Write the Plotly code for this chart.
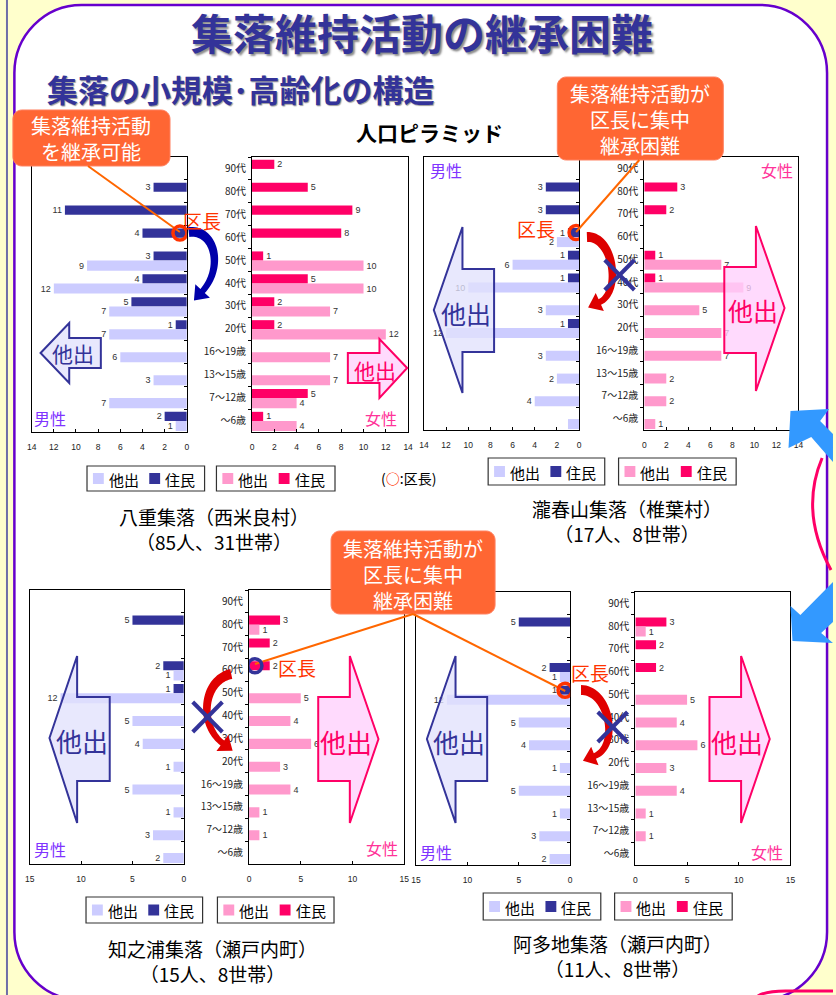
import math
import plotly.graph_objects as go

W, H = 836, 995
JP = "Noto Sans CJK JP"
NUM = "Liberation Sans, Arial, sans-serif"

# ---------------- data ----------------
CATEGORIES = ["90代", "80代", "70代", "60代", "50代", "40代", "30代", "20代",
              "16～19歳", "13～15歳", "7～12歳", "～6歳"]
LEGEND_LABELS = ["他出", "住民"]

YAE_MALE_RESIDENT = [0, 3, 11, 4, 3, 4, 5, 1, 0, 0, 0, 2]
YAE_MALE_MOVEDOUT = [0, 0, 0, 0, 9, 12, 7, 7, 6, 3, 7, 1]
YAE_FEMALE_RESIDENT = [2, 5, 9, 8, 1, 5, 2, 2, 0, 0, 5, 1]
YAE_FEMALE_MOVEDOUT = [0, 0, 0, 0, 10, 10, 7, 12, 7, 7, 4, 4]

TAKI_MALE_RESIDENT = [0, 3, 3, 1, 1, 1, 0, 1, 0, 0, 0, 0]
TAKI_MALE_MOVEDOUT = [0, 0, 0, 2, 6, 10, 3, 12, 3, 2, 4, 1]
TAKI_FEMALE_RESIDENT = [0, 3, 2, 0, 1, 1, 0, 0, 0, 0, 0, 0]
TAKI_FEMALE_MOVEDOUT = [0, 0, 0, 0, 7, 9, 5, 7, 7, 2, 2, 1]

CHINO_MALE_RESIDENT = [0, 5, 0, 2, 1, 0, 0, 0, 0, 0, 0, 0]
CHINO_MALE_MOVEDOUT = [0, 0, 0, 1, 12, 5, 4, 1, 5, 1, 3, 2]
CHINO_FEMALE_RESIDENT = [0, 3, 2, 2, 0, 0, 0, 0, 0, 0, 0, 0]
CHINO_FEMALE_MOVEDOUT = [0, 1, 0, 0, 5, 4, 6, 3, 4, 1, 1, 0]

ATA_MALE_RESIDENT = [0, 5, 0, 2, 1, 0, 0, 0, 0, 0, 0, 0]
ATA_MALE_MOVEDOUT = [0, 0, 0, 1, 12, 5, 4, 1, 5, 1, 3, 2]
ATA_FEMALE_RESIDENT = [0, 3, 2, 2, 0, 0, 0, 0, 0, 0, 0, 0]
ATA_FEMALE_MOVEDOUT = [0, 1, 0, 0, 5, 4, 6, 3, 4, 1, 1, 0]

CAPTION_NAMES = ["八重集落（西米良村）", "瀧春山集落（椎葉村）", "知之浦集落（瀬戸内町）", "阿多地集落（瀬戸内町）"]
CAPTION_POP = ["（85人、31世帯）", "（17人、8世帯）", "（15人、8世帯）", "（11人、8世帯）"]
AXIS_MAX = [14, 14, 15, 15]
AXIS_DTICK = [2, 2, 5, 5]

# ---------------- style / layout ----------------
C_M_OUT, C_M_RES = "#CCCCFF", "#333399"
C_F_OUT, C_F_RES = "#FF99CC", "#FF0066"
NAVY = "#333399"
ORANGE_BOX = "#FF6633"
KUCHO_RED = "#FF3300"

PYRAMIDS = [
    dict(m_res=YAE_MALE_RESIDENT, m_out=YAE_MALE_MOVEDOUT, f_res=YAE_FEMALE_RESIDENT, f_out=YAE_FEMALE_MOVEDOUT,
         male=(27, 184, 157, 432), female=(250, 408, 157, 432), hide=set()),
    dict(m_res=TAKI_MALE_RESIDENT, m_out=TAKI_MALE_MOVEDOUT, f_res=TAKI_FEMALE_RESIDENT, f_out=TAKI_FEMALE_MOVEDOUT,
         male=(424, 581, 157, 430), female=(647, 803, 157, 430), hide={("m_out", 11)}),
    dict(m_res=CHINO_MALE_RESIDENT, m_out=CHINO_MALE_MOVEDOUT, f_res=CHINO_FEMALE_RESIDENT, f_out=CHINO_FEMALE_MOVEDOUT,
         male=(25, 181, 590, 864), female=(247, 404, 590, 864), hide=set()),
    dict(m_res=ATA_MALE_RESIDENT, m_out=ATA_MALE_MOVEDOUT, f_res=ATA_FEMALE_RESIDENT, f_out=ATA_FEMALE_MOVEDOUT,
         male=(416, 572, 592, 865), female=(638, 795, 592, 865), hide=set()),
]

RES_OFFSET, RES_WIDTH = -0.38, 0.40
OUT_OFFSET, OUT_WIDTH = 0.02, 0.44


def X(x):
    return x / W


def Y(y):
    return 1 - y / H


def poly_path(points, close=True):
    s = "M " + " L ".join(f"{X(x):.5f},{Y(y):.5f}" for x, y in points)
    return s + (" Z" if close else "")


def rrect_path(x0, y0, x1, y1, r):
    k = 0.5523 * r
    P = lambda x, y: f"{X(x):.5f},{Y(y):.5f}"
    return (f"M {P(x0 + r, y0)} L {P(x1 - r, y0)} C {P(x1 - r + k, y0)} {P(x1, y0 + r - k)} {P(x1, y0 + r)} "
            f"L {P(x1, y1 - r)} C {P(x1, y1 - r + k)} {P(x1 - r + k, y1)} {P(x1 - r, y1)} "
            f"L {P(x0 + r, y1)} C {P(x0 + r - k, y1)} {P(x0, y1 - r + k)} {P(x0, y1 - r)} "
            f"L {P(x0, y0 + r)} C {P(x0, y0 + r - k)} {P(x0 + r - k, y0)} {P(x0 + r, y0)} Z")


def curved_arrow(p0, p1, p2, p3, w0, w1, head_len, head_w, n=40):
    def B(t):
        u = 1 - t
        return (u**3 * p0[0] + 3 * u * u * t * p1[0] + 3 * u * t * t * p2[0] + t**3 * p3[0],
                u**3 * p0[1] + 3 * u * u * t * p1[1] + 3 * u * t * t * p2[1] + t**3 * p3[1])

    def D(t):
        u = 1 - t
        dx = 3 * u * u * (p1[0] - p0[0]) + 6 * u * t * (p2[0] - p1[0]) + 3 * t * t * (p3[0] - p2[0])
        dy = 3 * u * u * (p1[1] - p0[1]) + 6 * u * t * (p2[1] - p1[1]) + 3 * t * t * (p3[1] - p2[1])
        L = math.hypot(dx, dy) or 1
        return dx / L, dy / L

    left, right = [], []
    for i in range(n + 1):
        t = i / n
        (x, y), (dx, dy) = B(t), D(t)
        nx, ny = -dy, dx
        w = (w0 + (w1 - w0) * t) / 2
        left.append((x + nx * w, y + ny * w))
        right.append((x - nx * w, y - ny * w))
    (ex, ey), (dx, dy) = B(1), D(1)
    nx, ny = -dy, dx
    head = [(ex + nx * head_w / 2, ey + ny * head_w / 2),
            (ex + dx * head_len, ey + dy * head_len),
            (ex - nx * head_w / 2, ey - ny * head_w / 2)]
    return poly_path(left + head + right[::-1])


def txt(x, y, s, size, color="#000000", weight="normal", xanchor="center", family=JP, shadow=None):
    font = dict(family=family, size=size, color=color, weight=weight)
    if shadow:
        font["shadow"] = shadow
    return dict(x=X(x), y=Y(y), xref="paper", yref="paper", text=s, showarrow=False,
                xanchor=xanchor, yanchor="middle", font=font)


fig = go.Figure()
layout = dict(width=W, height=H, margin=dict(l=0, r=0, t=0, b=0), autosize=False,
              paper_bgcolor="#FFFFCC", plot_bgcolor="#FFFFFF", showlegend=False,
              barmode="overlay", hovermode=False)
shapes, annotations = [], []

for k, pyr in enumerate(PYRAMIDS):
    xmax, dtick = AXIS_MAX[k], AXIS_DTICK[k]
    for s, side in enumerate(("male", "female")):
        idx = 2 * k + s + 1
        xs = "" if idx == 1 else str(idx)
        x0, x1, y0, y1 = pyr[side]
        male = side == "male"
        layout["xaxis" + xs] = dict(
            domain=[X(x0), X(x1)], range=[xmax, 0] if male else [0, xmax], anchor="y" + xs,
            tickmode="linear", tick0=0, dtick=dtick, ticks="inside", ticklen=3, tickcolor="#000",
            showline=True, linecolor="#000", linewidth=1, mirror=True, showgrid=False, zeroline=False,
            tickfont=dict(family=NUM, size=8.5, color="#222"), ticklabelstandoff=7, fixedrange=True)
        layout["yaxis" + xs] = dict(
            domain=[Y(y1), Y(y0)], type="category", categoryorder="array", categoryarray=CATEGORIES,
            range=[len(CATEGORIES) - 0.5, -0.5], anchor="x" + xs, side="right" if male else "left",
            showticklabels=not male, tickson="boundaries", ticks="inside" if male else "outside",
            ticklen=3, tickcolor="#000", showline=True, linecolor="#000", linewidth=1, mirror=True,
            showgrid=False, zeroline=False, tickfont=dict(family=JP, size=10, color="#222"),
            ticklabelstandoff=3, fixedrange=True)
        pre = "m_" if male else "f_"
        for key, color, off, wid in ((pre + "res", C_M_RES if male else C_F_RES, RES_OFFSET, RES_WIDTH),
                                     (pre + "out", C_M_OUT if male else C_F_OUT, OUT_OFFSET, OUT_WIDTH)):
            vals = pyr[key]
            labels = ["" if (v == 0 or (key, i) in pyr["hide"]) else str(v) for i, v in enumerate(vals)]
            fig.add_trace(go.Bar(
                y=CATEGORIES, x=vals, orientation="h", xaxis="x" + xs, yaxis="y" + xs,
                marker=dict(color=color, line=dict(width=0)), width=wid, offset=off,
                text=labels, textposition="outside", constraintext="none", cliponaxis=False,
                textfont=dict(family=NUM, size=9, color="#333333"),
                name=LEGEND_LABELS[1] if key.endswith("res") else LEGEND_LABELS[0]))

# ---------------- background ----------------
shapes.append(dict(type="path", xref="paper", yref="paper", layer="below",
                   path=rrect_path(9.5, 5, 832, 1000, 68), fillcolor="#FFFFFF",
                   line=dict(color="#6600CC", width=2.5)))
shapes.append(dict(type="line", xref="paper", yref="paper", x0=X(2), x1=X(2), y0=0, y1=1,
                   line=dict(color="#6F6FA8", width=2)))

# right-edge decorations
shapes.append(dict(type="path", xref="paper", yref="paper",
                   path=poly_path([(795, 411), (834, 409), (825, 421), (838, 434), (838, 462), (816, 437), (793, 448)]),
                   fillcolor="#3399FF", line=dict(width=0)))
shapes.append(dict(type="path", xref="paper", yref="paper",
                   path=poly_path([(797, 641), (795, 606), (805, 615), (838, 582), (838, 622), (826, 633), (838, 643)]),
                   fillcolor="#3399FF", line=dict(width=0)))
shapes.append(dict(type="path", xref="paper", yref="paper",
                   path=f"M {X(827)},{Y(458)} Q {X(804)},{Y(512)} {X(836)},{Y(570)}",
                   line=dict(color="#FF0066", width=3)))
shapes.append(dict(type="path", xref="paper", yref="paper",
                   path=f"M {X(762)},{Y(996)} Q {X(770)},{Y(991)} {X(790)},{Y(991)} L {X(838)},{Y(991)}",
                   line=dict(color="#FF0066", width=3)))

# ---------------- 他出 big arrows ----------------
BLUE_FILL, PINK_FILL = "rgba(226,226,252,0.78)", "rgba(255,208,252,0.78)"
BIG_ARROWS = [
    ([(36, 353), (65, 323), (65, 338), (97, 338), (97, 368), (65, 368), (65, 383)], NAVY, BLUE_FILL, (69, 353), 21),
    ([(407, 368), (379, 339), (379, 353), (347, 353), (347, 383), (379, 383), (379, 398)], "#FF0066", PINK_FILL, (374, 370), 21),
    ([(434, 310), (463, 227), (463, 269), (495, 269), (495, 352), (463, 352), (463, 393)], NAVY, BLUE_FILL, (467, 313), 25),
    ([(789, 308), (760, 226), (760, 267), (728, 267), (728, 353), (760, 353), (760, 391)], "#FF0066", PINK_FILL, (757, 310), 25),
    ([(45, 738), (73, 656), (73, 697), (106, 697), (106, 781), (73, 781), (73, 823)], NAVY, BLUE_FILL, (78, 740), 26),
    ([(378, 739), (349, 656), (349, 697), (317, 697), (317, 781), (349, 781), (349, 823)], "#FF0066", PINK_FILL, (345, 741), 26),
    ([(427, 739), (456, 656), (456, 697), (488, 697), (488, 781), (456, 781), (456, 823)], NAVY, BLUE_FILL, (460, 741), 26),
    ([(774, 739), (745, 656), (745, 697), (713, 697), (713, 781), (745, 781), (745, 823)], "#FF0066", PINK_FILL, (741, 741), 26),
]
for pts, lc, fc, (tx, ty), fs in BIG_ARROWS:
    shapes.append(dict(type="path", xref="paper", yref="paper", path=poly_path(pts),
                       fillcolor=fc, line=dict(color=lc, width=2)))
    annotations.append(txt(tx, ty, "他出", fs, color=lc))

# ---------------- curved arrows & crosses ----------------
CURVES = [
    (((186, 232), (213, 229), (221, 268), (200, 291)), 10, 6, "#0000AA"),
    (((589, 237), (616, 236), (624, 292), (602, 302)), 10, 6, "#DD0000"),
    (((229, 674), (200, 680), (196, 725), (220, 743)), 10, 6, "#E00000"),
    (((583, 690), (612, 690), (622, 746), (597, 756)), 10, 6, "#E00000"),
]
for (p0, p1, p2, p3), w0, w1, col in CURVES:
    shapes.append(dict(type="path", xref="paper", yref="paper",
                       path=curved_arrow(p0, p1, p2, p3, w0, w1, 13, 20), fillcolor=col, line=dict(width=0)))

for cx, cy in ((622, 275), (205, 717), (615, 727)):
    for dx in (-1, 1):
        shapes.append(dict(type="line", xref="paper", yref="paper",
                           x0=X(cx - 15), y0=Y(cy - 15 * dx), x1=X(cx + 15), y1=Y(cy + 15 * dx),
                           line=dict(color=NAVY, width=4)))

# ---------------- callouts ----------------
for x0, y0, x1, y1 in ((8, 110, 167, 166), (559, 77, 727, 160), (330, 531, 496, 614)):
    shapes.append(dict(type="path", xref="paper", yref="paper", path=rrect_path(x0, y0, x1, y1, 9),
                       fillcolor=ORANGE_BOX, line=dict(color="#FF8060", width=1)))
for (ax, ay), (bx, by) in (((84, 166), (177, 232)), ((642, 160), (578, 232)),
                           ((413, 614), (253, 664)), ((413, 614), (567, 691))):
    shapes.append(dict(type="line", xref="paper", yref="paper", x0=X(ax), y0=Y(ay), x1=X(bx), y1=Y(by),
                       line=dict(color="#FF6600", width=2)))

# 区長 circles (anchored to bars)
KUCHO = [(0, "male", 3, 0.62, KUCHO_RED), (1, "male", 3, 0.27, KUCHO_RED),
         (2, "female", 3, 0.57, NAVY), (3, "male", 4, 0.5, KUCHO_RED)]
for k, side, cat, xv, col in KUCHO:
    idx = 2 * k + (0 if side == "male" else 1) + 1
    xs = "" if idx == 1 else str(idx)
    shapes.append(dict(type="circle", xref="x" + xs, yref="y" + xs, xsizemode="pixel", ysizemode="pixel",
                       xanchor=xv, yanchor=cat + RES_OFFSET + RES_WIDTH / 2, x0=-7, x1=7, y0=-7, y1=7,
                       line=dict(color=col, width=3.5), fillcolor="rgba(0,0,0,0)"))

# ---------------- legends ----------------
LEGEND_BOXES = [
    ((83, 466, 202, 491), C_M_OUT, C_M_RES), ((214, 466, 334, 491), C_F_OUT, C_F_RES),
    ((489, 458, 607, 485), C_M_OUT, C_M_RES), ((621, 458, 740, 485), C_F_OUT, C_F_RES),
    ((82, 897, 200, 923), C_M_OUT, C_M_RES), ((215, 897, 333, 923), C_F_OUT, C_F_RES),
    ((484, 893, 603, 920), C_M_OUT, C_M_RES), ((617, 893, 736, 920), C_F_OUT, C_F_RES),
]
for (x0, y0, x1, y1), c_out, c_res in LEGEND_BOXES:
    shapes.append(dict(type="rect", xref="paper", yref="paper", x0=X(x0), x1=X(x1), y0=Y(y1), y1=Y(y0),
                       fillcolor="#FFFFFF", line=dict(color="#333333", width=1.2)))
    yc = (y0 + y1) / 2
    for j, (col, lab) in enumerate(((c_out, LEGEND_LABELS[0]), (c_res, LEGEND_LABELS[1]))):
        sx = x0 + 6 + j * 57
        shapes.append(dict(type="rect", xref="paper", yref="paper", x0=X(sx), x1=X(sx + 11),
                           y0=Y(yc + 5.5), y1=Y(yc - 5.5), fillcolor=col, line=dict(width=0)))
        annotations.append(txt(sx + 14, yc + 0.5, lab, 15, xanchor="left"))

# ---------------- texts ----------------
annotations.append(txt(422, 31, "集落維持活動の継承困難", 42, color=NAVY, weight="bold",
                       shadow="2px 2px 2px #8C8C8C"))
annotations.append(txt(40, 88, "集落の小規模･高齢化の構造", 31, color=NAVY, weight="bold", xanchor="left",
                       shadow="1px 1px 1px #9A9A9A"))
annotations.append(txt(430, 132, "人口ピラミッド", 21, color="#000000", weight="bold"))

for (cx, cy, text) in ((87, 138, "集落維持活動<br>を継承可能"),
                       (643, 120, "集落維持活動が<br>区長に集中<br>継承困難"),
                       (413, 574, "集落維持活動が<br>区長に集中<br>継承困難")):
    annotations.append(txt(cx, cy, text, 20, color="#FFFFFF"))

for x, y in ((199, 221), (537, 228), (296, 667), (592, 672)):
    annotations.append(txt(x, y, "区長", 19, color=KUCHO_RED))

for (mx, my), (fx, fy) in (((46, 418), (381, 418)), ((446, 170), (781, 170)),
                           ((46, 849), (382, 848)), ((436, 852), (771, 852))):
    annotations.append(txt(mx, my, "男性", 16, color="#8033FF"))
    annotations.append(txt(fx, fy, "女性", 16, color="#FF3399"))

annotations.append(txt(408, 478, "(<span style='color:#FF3300'><b>○</b></span>:区長)", 14))

for (x, yc), name, pop in zip(((212, 529), (630, 521), (210, 961), (620, 956)),
                              CAPTION_NAMES, CAPTION_POP):
    annotations.append(txt(x, yc, name + "<br>" + pop, 19))

layout["shapes"] = shapes
layout["annotations"] = annotations
fig.update_layout(**layout)
fig.write_html("out.html")
